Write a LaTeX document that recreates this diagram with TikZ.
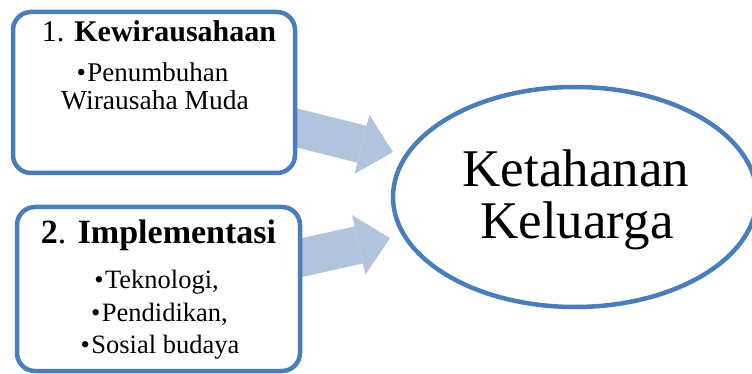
\documentclass[tikz,border=0pt]{standalone}
\usepackage{fontspec}
\setmainfont{Liberation Serif}
\usetikzlibrary{arrows.meta,shapes.geometric}
\definecolor{frameblue}{RGB}{74,126,187}
\definecolor{arrowblue}{RGB}{178,195,222}

\begin{document}
\begin{tikzpicture}[x=1pt,y=-1pt,
  panel/.style={draw=frameblue, line width=4.5pt, rounded corners=18pt,
    fill=white, inner sep=0pt},
  goal/.style={ellipse, draw=frameblue, line width=4.5pt, fill=white,
    inner sep=0pt, minimum width=364pt, minimum height=220pt},
  bigarrow/.style={draw=arrowblue, line width=38pt,
    -{Triangle[length=32pt, width=61pt, line width=0pt]}},
  txt/.style={anchor=base, inner sep=0pt, align=center}]

\useasboundingbox (0,0) rectangle (752,374);

% broad arrows pointing towards the goal
\coordinate (a1s) at (285.3,125.1);
\coordinate (a1t) at (393,152);
\coordinate (a2s) at (292.2,259.7);
\coordinate (a2t) at (390,238);
\draw[bigarrow] (a1s) -- (a1t);
\draw[bigarrow] (a2s) -- (a2t);

% the two input panels
\node[panel, minimum width=282pt, minimum height=161pt] (box1) at (154,92.5) {};
\node[panel, minimum width=283pt, minimum height=164pt] (box2) at (158.5,289) {};

% the goal
\node[goal] (goal) at (575,197) {};

% panel 1 text
\node[txt] (t1) at (159,42) {\fontsize{30}{33}\selectfont 1. \textbf{Kewirausahaan}};
\node[txt] (b1a) at (152.5,82) {\fontsize{27}{30}\selectfont •\kern1.5pt Penumbuhan};
\node[txt] (b1b) at (155,110) {\fontsize{27.5}{30}\selectfont Wirausaha Muda};

% panel 2 text
\node[txt] (t2) at (158.5,243) {\fontsize{34}{38}\selectfont \textbf{2}. \textbf{Implementasi}};
\node[txt] (b2a) at (156.5,288) {\fontsize{26.5}{29}\selectfont •\kern1.5pt Teknologi,};
\node[txt] (b2b) at (159.5,321) {\fontsize{26.5}{29}\selectfont •\kern1.5pt Pendidikan,};
\node[txt] (b2c) at (160,353) {\fontsize{26.5}{29}\selectfont •\kern1.5pt Sosial budaya};

% goal text
\node[txt] (g1) at (576,187) {\fontsize{53}{56}\selectfont Ketahanan};
\node[txt] (g2) at (577,238) {\fontsize{53}{56}\selectfont Keluarga};
\end{tikzpicture}
\end{document}
